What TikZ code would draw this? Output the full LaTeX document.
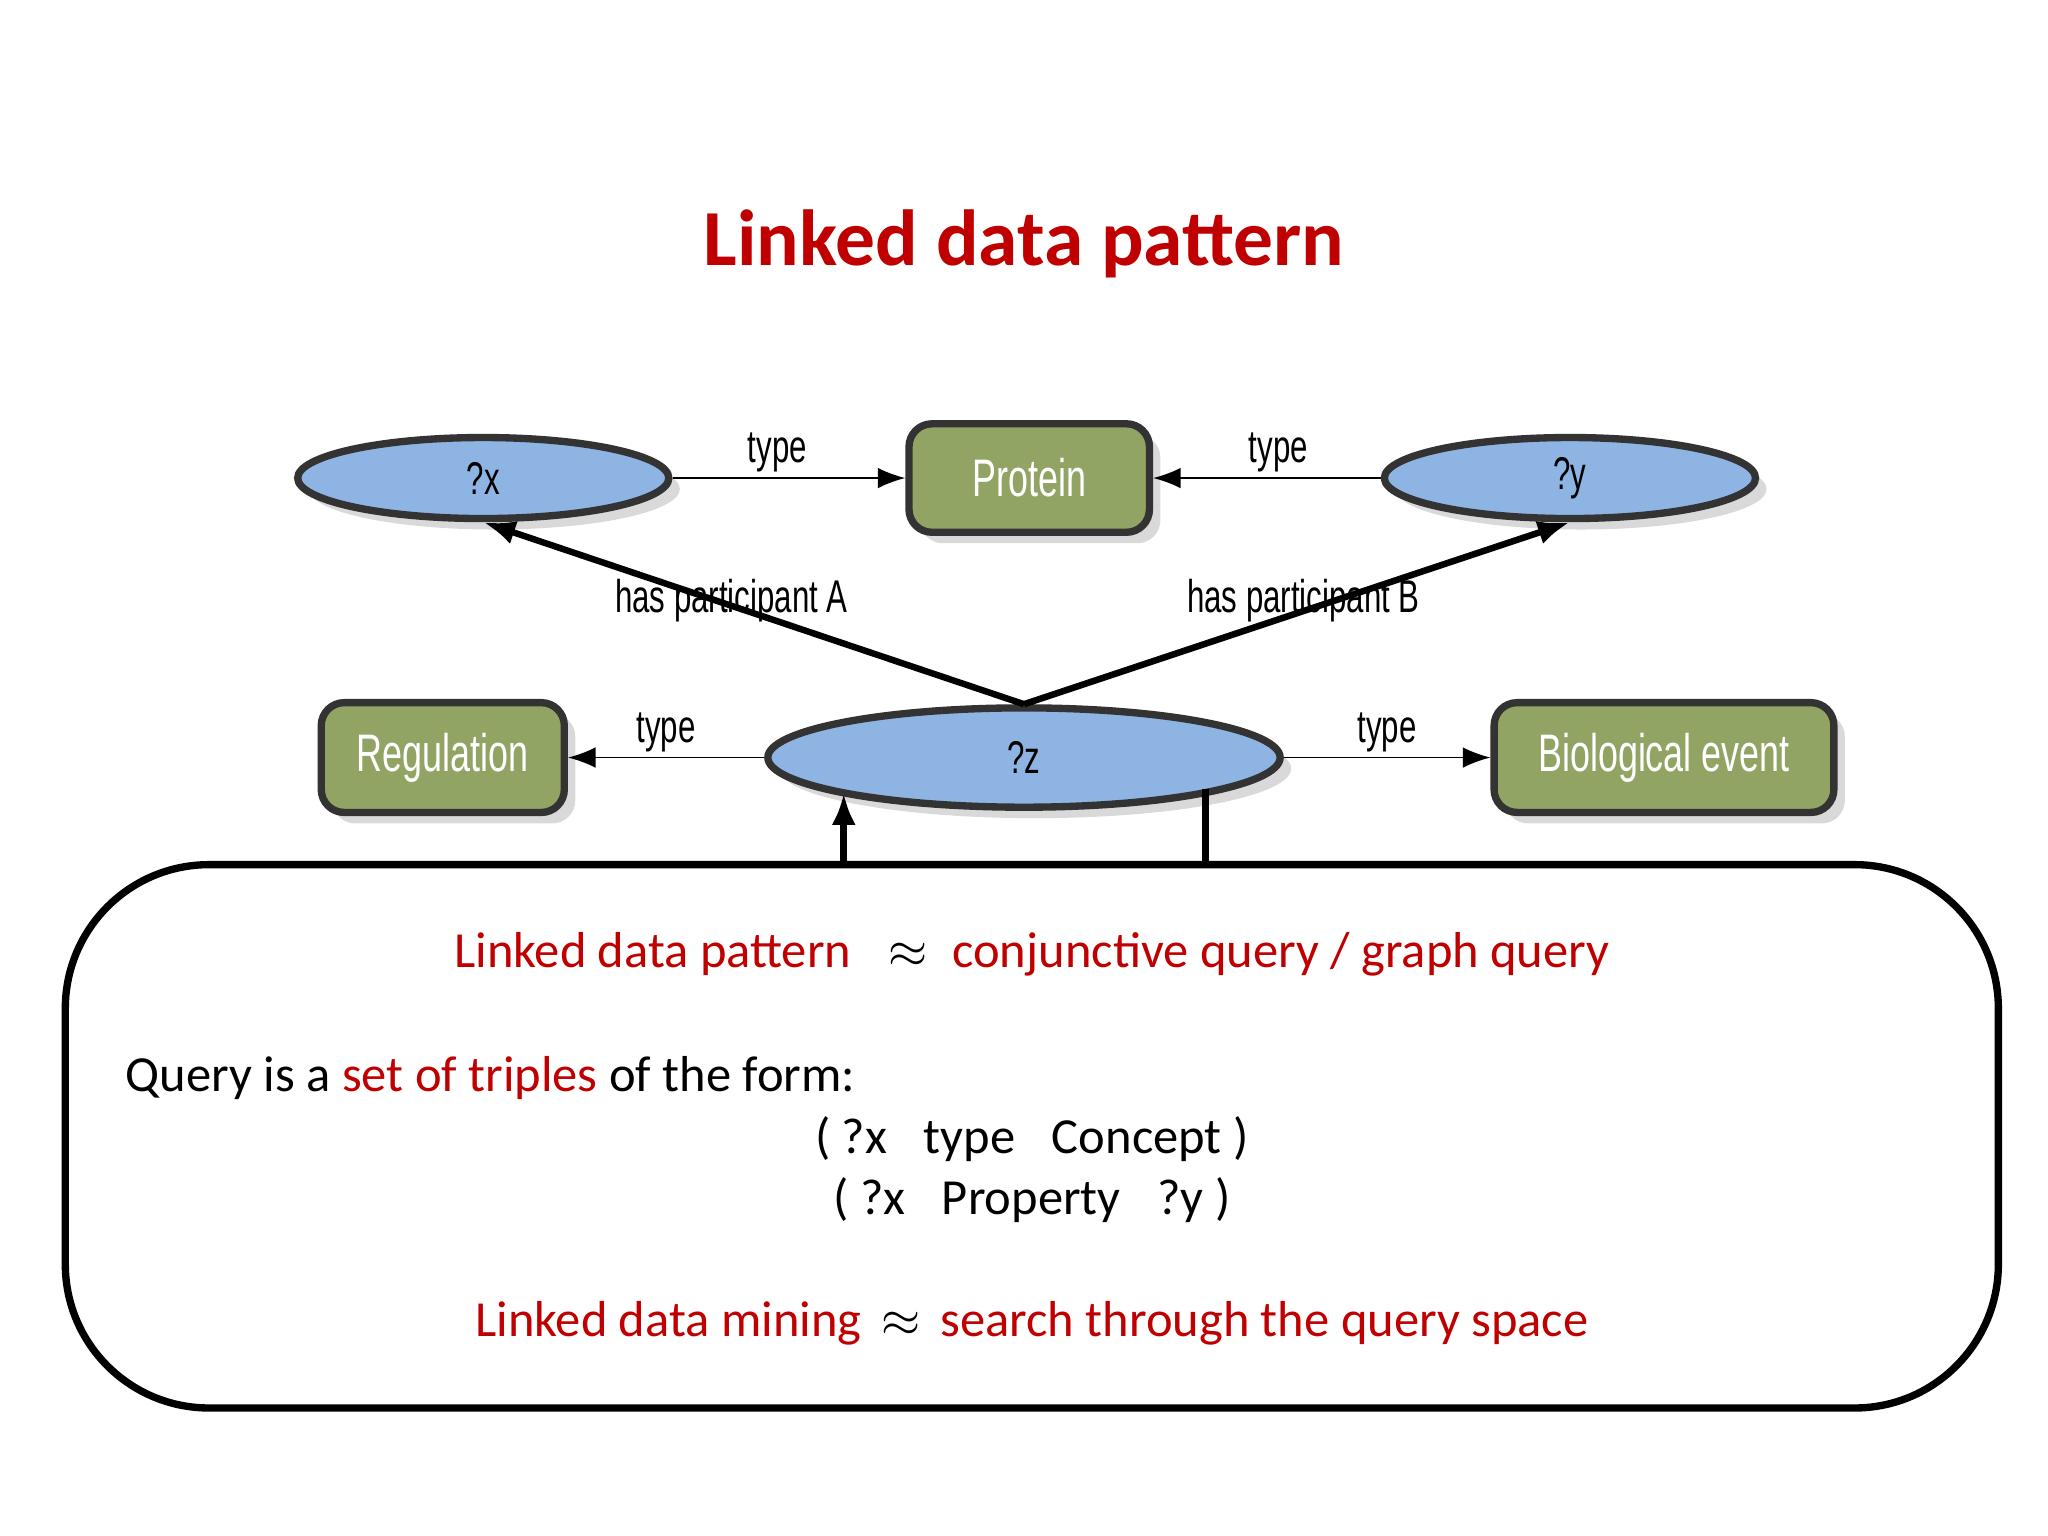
\documentclass[tikz,border=0pt]{standalone}
\usepackage{fontspec}
\setmainfont{Carlito}
\newfontfamily\narrowfont{Liberation Sans}[FakeStretch=0.68]
\usepackage{xcolor}
\usetikzlibrary{arrows.meta, shapes.geometric, shadows, positioning}
\definecolor{titlered}{RGB}{192,0,0}
\definecolor{nodeblue}{RGB}{141,180,226}
\definecolor{nodegreen}{RGB}{146,164,100}

\begin{document}
\begin{tikzpicture}[x=0.01cm, y=-0.01cm,
    var/.style={ellipse, inner sep=0pt, draw=black!80, line width=1.6pt, fill=nodeblue,
      drop shadow={opacity=0.3}, font=\narrowfont\fontsize{10}{12}\selectfont},
    cls/.style={rectangle, inner sep=0pt, rounded corners=5pt, draw=black!80, line width=1.6pt,
      fill=nodegreen, text=white, drop shadow={opacity=0.3},
      font=\narrowfont\fontsize{11.5}{14}\selectfont},
    edge/.style={-{Latex[length=6pt]}, thin},
    lbl/.style={font=\narrowfont\fontsize{10}{12}\selectfont, inner sep=1pt},
    txt/.style={font=\fontsize{11}{13}\selectfont}]
    % background and margins
    \useasboundingbox (0,0) rectangle (1568,1176);

    % title
    \node[text=titlered, font=\bfseries\fontsize{17.3}{20}\selectfont] (title) at (784,187) {Linked data pattern};

    % graph nodes
    \node[var, minimum width=2.84cm, minimum height=0.62cm] (x) at (370,366) {?x};
    \node[cls, minimum width=1.84cm, minimum height=0.83cm] (protein) at (788,366) {Protein};
    \node[var, minimum width=2.84cm, minimum height=0.62cm] (y) at (1202,366) {?y};
    \node[var, minimum width=3.92cm, minimum height=0.76cm] (z) at (784,580) {?z};
    \node[cls, minimum width=1.86cm, minimum height=0.84cm] (reg) at (339,580) {Regulation};
    \node[cls, minimum width=2.60cm, minimum height=0.84cm] (bio) at (1274,580) {Biological event};

    % connectors
    \draw[edge] (x) -- node[lbl, above, pos=0.45] {type} (protein);
    \draw[edge] (y) -- node[lbl, above, pos=0.45] {type} (protein);
    \draw[edge] (z) -- node[lbl, above] {type} (reg);
    \draw[edge] (z) -- node[lbl, above] {type} (bio);
    \draw[-{Latex[length=7pt]}, line width=1.4pt] (z.north) -- (x.south);
    \draw[-{Latex[length=7pt]}, line width=1.4pt] (z.north) -- (y.south);
    \node[lbl] (pa) at (560,460) {has participant A};
    \node[lbl] (pb) at (998,460) {has participant B};

    % query box
    \draw[line width=1.6pt, rounded corners=1.1cm] (50,662) rectangle (1530,1078);
    \coordinate (b1) at (646,662);
    \coordinate (e1) at (646,607);
    \coordinate (b2) at (923,662);
    \coordinate (e2) at (923,604);
    \draw[-{Latex[length=7pt]}, line width=1.6pt] (b1) -- (e1);
    \draw[line width=1.6pt] (b2) -- (e2);

    % box text
    \node[txt, text=titlered] (l1) at (790,731) {Linked data pattern \enspace\textcolor{black}{$\approx$}\enspace conjunctive query / graph query};
    \node[txt, anchor=west] (l2) at (84,825) {Query is a \textcolor{titlered}{set of triples} of the form:};
    \node[txt] (l3) at (790,872) {( ?x \enspace type \enspace Concept )};
    \node[txt] (l4) at (790,919) {( ?x \enspace Property \enspace ?y )};
    \node[txt, text=titlered] (l5) at (790,1013) {Linked data mining \,\textcolor{black}{$\approx$}\, search through the query space};
\end{tikzpicture}
\end{document}
